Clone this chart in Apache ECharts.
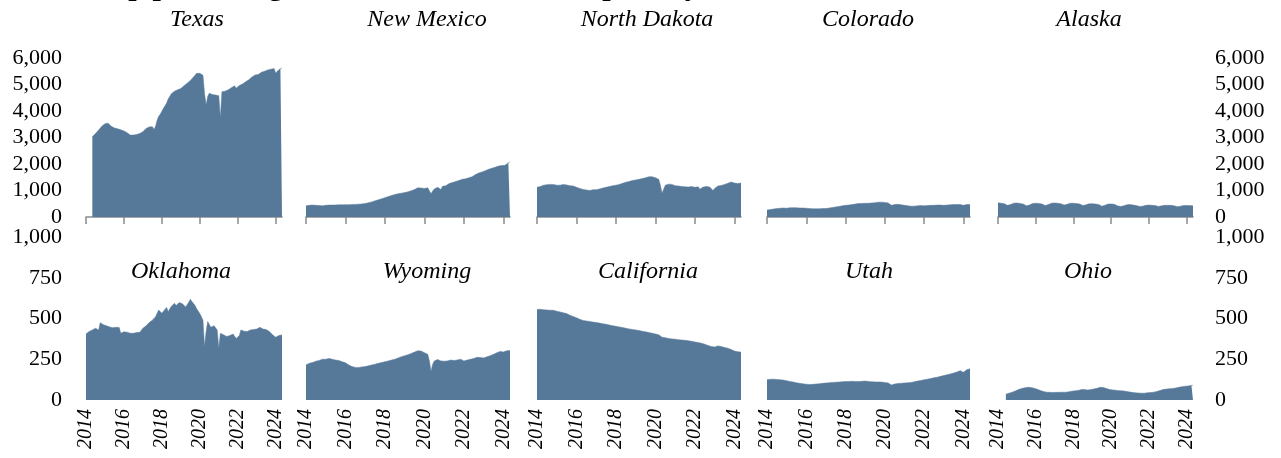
<!DOCTYPE html>
<html><head><meta charset="utf-8">
<script src="https://cdn.jsdelivr.net/npm/echarts@6/dist/echarts.min.js"></script>
<style>html,body{margin:0;padding:0;background:#fff}#c{width:1281px;height:458px}</style>
</head><body><div id="c"></div>
<script>
// Monthly crude oil production, thousand barrels per day, Jan 2014 - May 2024
const startYear = 2014;
const monthCount = 125;
const tickYears = ['2014','2016','2018','2020','2022','2024'];

const texas = [null,null,null,null,3030,3100,3150,3220,3280,3350,3420,3470,
3520,3560,3540,3480,3420,3380,3360,3350,3330,3310,3290,3280,
3250,3220,3180,3120,3090,3080,3090,3100,3110,3130,3150,3180,
3220,3280,3340,3380,3400,3420,3410,3300,3420,3650,3800,3880,
3950,4100,4200,4300,4450,4550,4650,4700,4750,4780,4800,4830,
4850,4900,4950,5000,5050,5100,5150,5200,5280,5350,5420,5430,
5420,5400,5350,4650,4230,4550,4670,4650,4620,4620,4600,4600,
4580,3740,4730,4740,4750,4760,4800,4860,4880,4920,4950,4860,
4900,4960,5000,5020,5080,5100,5150,5180,5220,5280,5320,5360,
5360,5380,5420,5460,5480,5500,5530,5550,5560,5580,5590,5600,
5420,5500,5560,5600,5620];

const newMexico = [420,430,440,450,450,445,440,440,435,430,420,415,
440,450,450,445,450,450,455,460,460,460,460,465,
465,465,460,465,470,470,475,480,485,490,495,500,
510,520,540,555,570,590,610,630,650,670,690,710,
730,750,770,790,810,830,850,870,880,890,900,910,
920,930,950,970,990,1010,1040,1070,1100,1110,1090,1080,
1080,1090,1100,1050,880,980,1060,1100,1120,1100,1040,1160,
1220,1180,1250,1260,1280,1300,1320,1340,1360,1380,1400,1420,
1440,1440,1460,1480,1500,1520,1560,1600,1630,1660,1680,1700,
1720,1750,1780,1800,1820,1840,1860,1880,1900,1920,1930,1940,
1900,1950,2000,2050,2080];

const northDakota = [1120,1130,1150,1180,1200,1210,1220,1230,1230,1240,1230,1220,
1200,1190,1200,1210,1230,1220,1210,1190,1180,1180,1170,1150,
1120,1100,1080,1060,1040,1030,1020,1010,1000,1020,1030,1040,
1030,1050,1060,1070,1090,1110,1120,1140,1150,1160,1180,1200,
1200,1210,1230,1250,1270,1290,1310,1320,1340,1360,1380,1400,
1400,1380,1420,1440,1450,1460,1480,1500,1520,1540,1520,1500,
1480,1460,1420,1200,900,1050,1200,1230,1240,1250,1230,1200,
1180,1150,1170,1160,1150,1150,1140,1140,1130,1140,1150,1140,
1120,1130,1140,1050,1100,1130,1140,1150,1140,1130,1140,1000,
1080,1150,1170,1180,1190,1200,1230,1250,1270,1300,1320,1310,
1280,1250,1260,1290,1280];

const colorado = [260,270,280,290,300,310,320,320,330,330,340,340,
330,340,350,350,350,350,350,350,340,340,340,330,
330,320,320,320,310,310,310,310,310,310,320,320,
320,330,340,350,360,370,380,390,400,410,420,430,
440,450,450,460,470,480,490,500,510,510,510,520,
520,510,520,530,530,540,540,550,560,560,560,550,
550,540,530,480,440,460,470,480,480,470,460,450,
440,420,420,410,410,410,410,420,420,420,430,430,
420,420,430,430,440,440,440,440,450,450,450,440,
440,450,450,460,460,470,470,470,470,470,470,460,
440,460,470,470,470];

const alaska = [540,530,520,510,500,460,440,440,470,500,520,530,
530,520,510,500,490,450,420,420,450,490,510,520,
520,520,510,500,490,460,430,430,470,500,520,530,
530,530,520,510,500,470,450,450,480,500,520,530,
520,520,510,500,490,460,430,430,460,490,500,510,
500,500,490,480,470,440,410,410,440,470,490,490,
490,480,480,460,420,400,400,400,420,450,460,470,
470,460,450,440,430,410,400,390,410,430,440,450,
450,450,440,440,430,410,400,400,420,440,440,440,
440,440,440,430,420,400,390,390,410,430,430,430,
430,430,430,420,420];

const oklahoma = [405,410,420,425,430,435,440,438,430,474,468,462,
460,455,450,448,446,444,448,446,440,445,410,415,
418,419,416,413,410,412,409,411,414,408,415,425,
440,450,455,465,475,481,490,500,511,520,552,540,
532,545,555,568,542,560,575,585,593,580,590,598,
601,590,580,570,585,600,618,605,593,580,560,552,
530,511,490,327,420,481,470,446,440,456,450,430,
317,409,405,400,395,390,392,395,399,405,400,378,
378,395,430,425,422,419,420,425,430,428,432,430,
435,440,446,440,435,430,432,428,420,410,400,393,
385,390,395,400,399];

const wyoming = [215,220,225,228,230,235,238,240,243,247,250,252,
250,252,255,253,250,248,245,244,242,238,235,232,
228,222,215,210,205,202,200,198,200,201,203,205,
205,208,210,212,215,218,220,222,225,228,230,232,
235,238,240,242,245,248,250,255,258,262,266,270,
272,275,278,282,286,290,294,298,302,305,300,295,
290,285,280,240,175,220,240,245,248,245,240,240,
238,232,240,242,245,243,242,244,246,248,250,245,
240,238,245,248,250,252,255,258,262,265,260,255,
258,262,265,268,272,275,280,285,290,295,298,300,
295,298,302,305,303];

const california = [555,557,556,555,554,553,552,550,551,552,550,548,
545,543,540,538,535,532,530,525,520,515,512,510,
505,500,495,490,488,486,485,483,482,480,478,476,
475,474,472,470,468,466,465,462,460,458,456,455,
452,450,448,446,445,443,440,438,436,435,433,432,
430,428,426,424,422,420,418,416,414,412,410,408,
405,402,400,395,385,380,382,380,378,376,375,374,
373,372,370,369,368,367,366,365,364,362,360,358,
356,354,352,350,348,345,342,338,334,330,328,326,
325,330,332,330,328,325,322,320,318,315,310,305,
300,298,296,295,294];

const utah = [125,126,127,128,128,127,126,125,124,123,122,120,
118,116,114,112,110,108,106,104,102,100,99,98,
97,96,95,95,96,97,98,99,100,101,102,103,
104,105,106,107,108,108,109,110,110,111,112,112,
113,114,114,115,115,114,113,112,113,114,115,116,
116,115,114,113,112,112,111,110,111,112,110,108,
107,106,105,100,92,95,98,100,101,102,103,104,
104,105,106,107,108,110,112,114,116,118,120,122,
124,126,128,130,132,134,136,138,140,142,145,148,
150,152,155,158,160,162,165,168,172,175,180,178,
170,178,185,190,192];

const ohio = [null,null,null,null,null,35,38,42,45,48,52,55,
60,64,67,70,73,75,77,78,78,76,74,72,
70,66,62,58,55,52,50,48,47,47,46,46,
46,47,47,47,48,48,48,48,49,50,52,54,
55,56,57,59,61,64,67,65,63,61,62,64,
66,68,70,72,75,78,80,77,74,70,67,64,
63,62,62,60,58,57,57,56,55,54,52,50,
49,47,46,45,44,43,42,42,41,42,43,44,
45,46,47,48,50,52,55,58,62,64,66,67,
68,69,70,71,72,74,76,78,80,82,84,85,
80,86,88,90,90];

const topStates = ['Texas','New Mexico','North Dakota','Colorado','Alaska'];
const bottomStates = ['Oklahoma','Wyoming','California','Utah','Ohio'];
const topSeries = [texas,newMexico,northDakota,colorado,alaska];
const bottomSeries = [oklahoma,wyoming,california,utah,ohio];
const topMax = 6000, topStep = 1000;
const bottomMax = 1000, bottomStep = 250;
const chartTitle = 'Top producing states, thousand barrels per day';

// month categories
const months = [];
for (let i = 0; i < monthCount; i++) {
  const y = startYear + Math.floor(i / 12), m = (i % 12) + 1;
  months.push(y + '-' + (m < 10 ? '0' + m : m));
}
const isTick = (idx, val) => tickYears.indexOf(String(val).slice(0,4)) >= 0 && String(val).slice(5) === '01';

const FONT = '"Liberation Serif", "DejaVu Serif", serif';
const AREA = '#56799a';
const AXIS = '#8a8a8a';
const cols = [[86,196],[306,204],[537,204],[767,203],[998,195]];
const titleX = [[197,427,647,868,1089],[181,427,648,869,1088]];
const rows = [{top:58,height:159},{top:237,height:163}];
const titleY = [20,272];

const grid = [], xAxis = [], yAxis = [], series = [], graphic = [];
[0,1].forEach(r => {
  const names = r === 0 ? topStates : bottomStates;
  const datas = r === 0 ? topSeries : bottomSeries;
  names.forEach((name, c) => {
    const k = grid.length;
    grid.push({left: cols[c][0], width: cols[c][1], top: rows[r].top, height: rows[r].height});
    xAxis.push({
      type: 'category', gridIndex: k, data: months, boundaryGap: false,
      axisLine: {show: r === 0, lineStyle: {color: AXIS, width: 1.5}},
      axisTick: {show: r === 0, interval: isTick, length: 7, lineStyle: {color: AXIS, width: 1.5}},
      axisLabel: {show: r === 1, interval: isTick, rotate: 90, margin: 9,
        fontFamily: FONT, fontStyle: 'italic', fontSize: 20, color: '#000',
        formatter: v => v.slice(0,4)},
      splitLine: {show: false}
    });
    yAxis.push({
      type: 'value', gridIndex: k, min: 0,
      max: r === 0 ? topMax : bottomMax, interval: r === 0 ? topStep : bottomStep,
      position: c === 4 ? 'right' : 'left',
      axisLine: {show: false}, axisTick: {show: false}, splitLine: {show: false},
      axisLabel: {show: c === 0 || c === 4, margin: c === 4 ? 22 : 24,
        fontFamily: FONT, fontSize: 22, color: '#000',
        formatter: v => v.toLocaleString('en-US')}
    });
    series.push({
      type: 'line', xAxisIndex: k, yAxisIndex: k, data: datas[c],
      showSymbol: false, symbol: 'none',
      lineStyle: {width: 0.5, color: AREA, cap: 'butt'},
      areaStyle: {color: AREA, opacity: 1},
      emphasis: {disabled: true}
    });
    graphic.push({type: 'text', x: titleX[r][c], y: titleY[r],
      style: {text: name, font: 'italic 24px ' + FONT, fill: '#000', align: 'center', verticalAlign: 'middle'}});
  });
});
graphic.push({type: 'text', x: 96, y: -28,
  style: {text: chartTitle, font: 'bold 30px ' + FONT, fill: '#000', align: 'left', verticalAlign: 'top'}});

const chart = echarts.init(document.getElementById('c'), null, {renderer: 'canvas'});
chart.setOption({animation: false, backgroundColor: '#fff', grid, xAxis, yAxis, series, graphic});
</script>
</body></html>
